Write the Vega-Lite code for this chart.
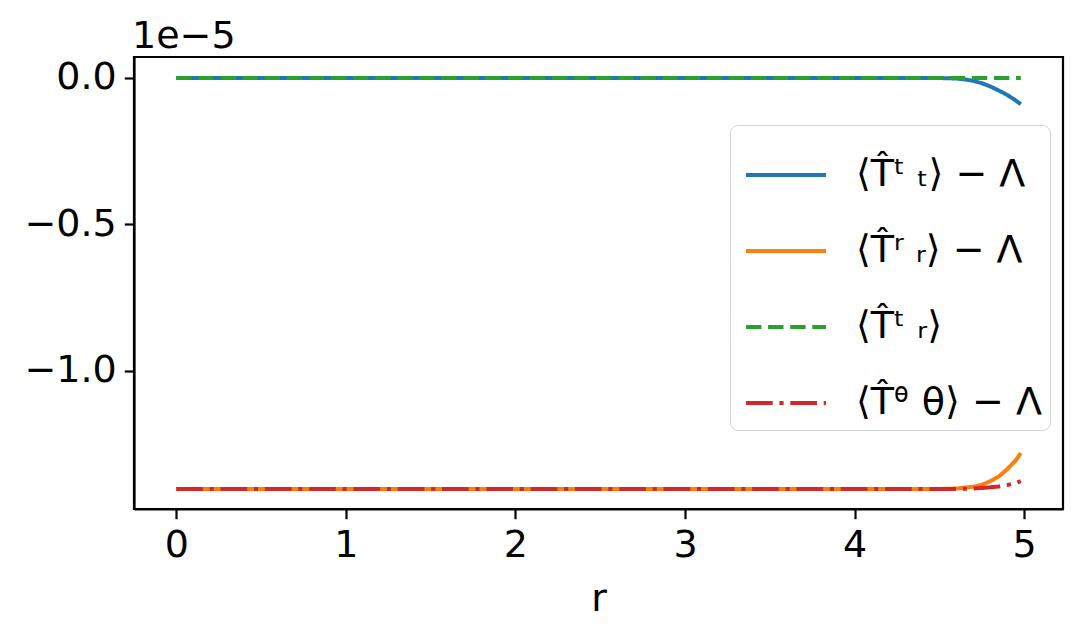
{
  "$schema": "https://vega.github.io/schema/vega-lite/v6.json",
  "autosize": "none",
  "padding": {"left": 134, "top": 57, "right": 21, "bottom": 128},
  "width": 929,
  "height": 452,
  "background": "white",
  "title": {"text": "1e−5", "anchor": "start", "frame": "group", "fontSize": 38, "font": "DejaVu Sans", "fontWeight": "normal", "color": "black", "offset": 1, "dx": -2},
  "config": {
    "font": "DejaVu Sans",
    "view": {"stroke": "black", "strokeWidth": 2.2},
    "axis": {"grid": false, "domainColor": "black", "domainWidth": 2.2, "tickColor": "black", "tickWidth": 2.2, "tickSize": 9.7, "labelFontSize": 38, "labelColor": "black", "labelPadding": 8, "titleFontSize": 38, "titleFontWeight": "normal", "titleColor": "black"}
  },
  "data": {"values": [
    {"series": "⟨T̂ᵗ ₜ⟩ − Λ", "r": 0, "v": 0},
    {"series": "⟨T̂ᵗ ₜ⟩ − Λ", "r": 1, "v": 0},
    {"series": "⟨T̂ᵗ ₜ⟩ − Λ", "r": 2, "v": 0},
    {"series": "⟨T̂ᵗ ₜ⟩ − Λ", "r": 3, "v": 0},
    {"series": "⟨T̂ᵗ ₜ⟩ − Λ", "r": 4, "v": 0},
    {"series": "⟨T̂ᵗ ₜ⟩ − Λ", "r": 4.3, "v": 0},
    {"series": "⟨T̂ᵗ ₜ⟩ − Λ", "r": 4.5, "v": -0.0004},
    {"series": "⟨T̂ᵗ ₜ⟩ − Λ", "r": 4.6, "v": -0.002},
    {"series": "⟨T̂ᵗ ₜ⟩ − Λ", "r": 4.65, "v": -0.005},
    {"series": "⟨T̂ᵗ ₜ⟩ − Λ", "r": 4.7, "v": -0.010},
    {"series": "⟨T̂ᵗ ₜ⟩ − Λ", "r": 4.75, "v": -0.018},
    {"series": "⟨T̂ᵗ ₜ⟩ − Λ", "r": 4.8, "v": -0.029},
    {"series": "⟨T̂ᵗ ₜ⟩ − Λ", "r": 4.85, "v": -0.043},
    {"series": "⟨T̂ᵗ ₜ⟩ − Λ", "r": 4.9, "v": -0.058},
    {"series": "⟨T̂ᵗ ₜ⟩ − Λ", "r": 4.95, "v": -0.077},
    {"series": "⟨T̂ᵗ ₜ⟩ − Λ", "r": 4.98, "v": -0.090},
    {"series": "⟨T̂ʳ ᵣ⟩ − Λ", "r": 0, "v": -1.405},
    {"series": "⟨T̂ʳ ᵣ⟩ − Λ", "r": 1, "v": -1.405},
    {"series": "⟨T̂ʳ ᵣ⟩ − Λ", "r": 2, "v": -1.405},
    {"series": "⟨T̂ʳ ᵣ⟩ − Λ", "r": 3, "v": -1.405},
    {"series": "⟨T̂ʳ ᵣ⟩ − Λ", "r": 4, "v": -1.405},
    {"series": "⟨T̂ʳ ᵣ⟩ − Λ", "r": 4.3, "v": -1.405},
    {"series": "⟨T̂ʳ ᵣ⟩ − Λ", "r": 4.5, "v": -1.4045},
    {"series": "⟨T̂ʳ ᵣ⟩ − Λ", "r": 4.6, "v": -1.403},
    {"series": "⟨T̂ʳ ᵣ⟩ − Λ", "r": 4.65, "v": -1.400},
    {"series": "⟨T̂ʳ ᵣ⟩ − Λ", "r": 4.7, "v": -1.397},
    {"series": "⟨T̂ʳ ᵣ⟩ − Λ", "r": 4.75, "v": -1.390},
    {"series": "⟨T̂ʳ ᵣ⟩ − Λ", "r": 4.8, "v": -1.378},
    {"series": "⟨T̂ʳ ᵣ⟩ − Λ", "r": 4.85, "v": -1.362},
    {"series": "⟨T̂ʳ ᵣ⟩ − Λ", "r": 4.9, "v": -1.337},
    {"series": "⟨T̂ʳ ᵣ⟩ − Λ", "r": 4.95, "v": -1.307},
    {"series": "⟨T̂ʳ ᵣ⟩ − Λ", "r": 4.98, "v": -1.282},
    {"series": "⟨T̂ᵗ ᵣ⟩", "r": 0, "v": 0},
    {"series": "⟨T̂ᵗ ᵣ⟩", "r": 2.5, "v": 0},
    {"series": "⟨T̂ᵗ ᵣ⟩", "r": 4.98, "v": 0},
    {"series": "⟨T̂ᶿ θ⟩ − Λ", "r": 0, "v": -1.405},
    {"series": "⟨T̂ᶿ θ⟩ − Λ", "r": 1, "v": -1.405},
    {"series": "⟨T̂ᶿ θ⟩ − Λ", "r": 2, "v": -1.405},
    {"series": "⟨T̂ᶿ θ⟩ − Λ", "r": 3, "v": -1.405},
    {"series": "⟨T̂ᶿ θ⟩ − Λ", "r": 4, "v": -1.405},
    {"series": "⟨T̂ᶿ θ⟩ − Λ", "r": 4.5, "v": -1.405},
    {"series": "⟨T̂ᶿ θ⟩ − Λ", "r": 4.6, "v": -1.4045},
    {"series": "⟨T̂ᶿ θ⟩ − Λ", "r": 4.7, "v": -1.403},
    {"series": "⟨T̂ᶿ θ⟩ − Λ", "r": 4.75, "v": -1.401},
    {"series": "⟨T̂ᶿ θ⟩ − Λ", "r": 4.8, "v": -1.399},
    {"series": "⟨T̂ᶿ θ⟩ − Λ", "r": 4.85, "v": -1.396},
    {"series": "⟨T̂ᶿ θ⟩ − Λ", "r": 4.9, "v": -1.391},
    {"series": "⟨T̂ᶿ θ⟩ − Λ", "r": 4.95, "v": -1.384},
    {"series": "⟨T̂ᶿ θ⟩ − Λ", "r": 4.98, "v": -1.378}
  ]},
  "mark": {"type": "line", "strokeWidth": 4, "clip": true},
  "encoding": {
    "x": {"field": "r", "type": "quantitative", "title": "r",
      "scale": {"domain": [-0.249, 5.229], "nice": false, "zero": false},
      "axis": {"values": [0, 1, 2, 3, 4, 5], "format": "d", "titlePadding": 16}},
    "y": {"field": "v", "type": "quantitative", "title": null,
      "scale": {"domain": [-1.473, 0.0715], "nice": false, "zero": false},
      "axis": {"values": [0, -0.5, -1.0], "format": ".1f"}},
    "color": {"field": "series", "type": "nominal", "title": null,
      "scale": {"domain": ["⟨T̂ᵗ ₜ⟩ − Λ", "⟨T̂ʳ ᵣ⟩ − Λ", "⟨T̂ᵗ ᵣ⟩", "⟨T̂ᶿ θ⟩ − Λ"], "range": ["#1f77b4", "#ff7f0e", "#2ca02c", "#d62728"]},
      "legend": {"orient": "none", "legendX": 596, "legendY": 68, "padding": 8, "symbolOffset": 6, "symbolType": "stroke", "symbolSize": 6400, "symbolStrokeWidth": 4, "labelFontSize": 38, "labelLimit": 500, "labelColor": "black", "labelOffset": 28, "rowPadding": 15, "strokeColor": "#d4d4d4", "fillColor": "rgba(255,255,255,0.8)", "cornerRadius": 8}},
    "strokeDash": {"field": "series", "type": "nominal",
      "scale": {"domain": ["⟨T̂ᵗ ₜ⟩ − Λ", "⟨T̂ʳ ᵣ⟩ − Λ", "⟨T̂ᵗ ᵣ⟩", "⟨T̂ᶿ θ⟩ − Λ"], "range": [[1, 0], [1, 0], [15.4, 6.7], [26.7, 6.7, 4.2, 6.7]]},
      "legend": null}
  }
}
